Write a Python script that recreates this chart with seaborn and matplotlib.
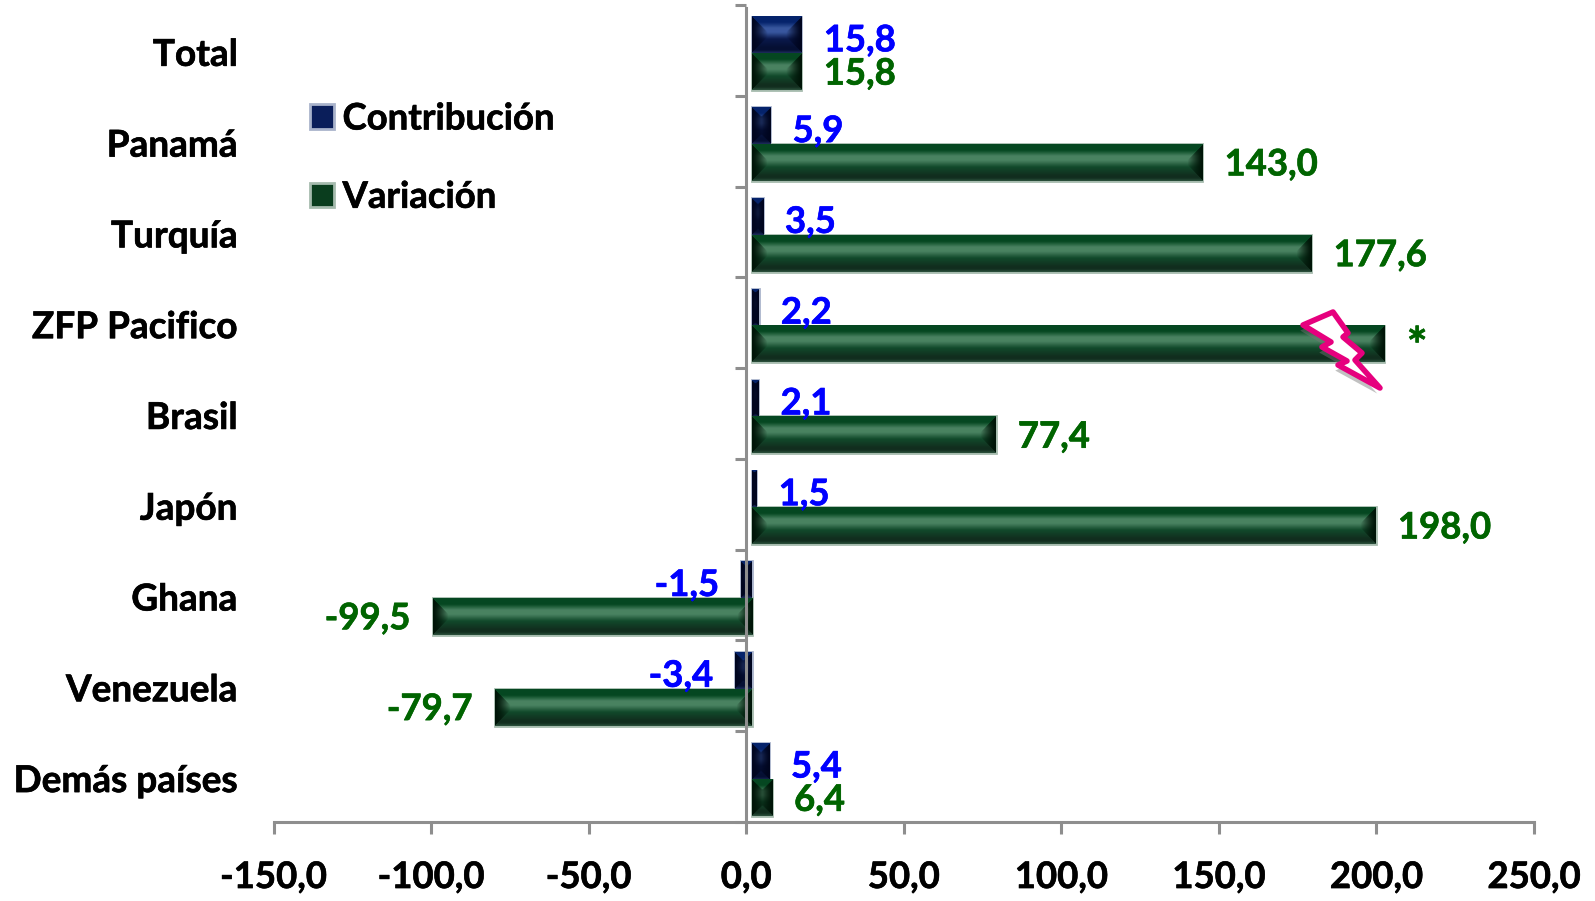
import numpy as np
import pandas as pd
import matplotlib
matplotlib.use("Agg")
import matplotlib.pyplot as plt
import matplotlib.patheffects as pe
from matplotlib.patches import Patch, PathPatch
from matplotlib.path import Path
from matplotlib.text import Text
from matplotlib.transforms import Affine2D
import seaborn as sns

categories = ["Total", "Panamá", "Turquía", "ZFP Pacifico", "Brasil", "Japón",
              "Ghana", "Venezuela", "Demás países"]
contribucion = [15.8, 5.9, 3.5, 2.2, 2.1, 1.5, -1.5, -3.4, 5.4]
variacion = [15.8, 143.0, 177.6, 200.8, 77.4, 198.0, -99.5, -79.7, 6.4]
contribucion_labels = ["15,8", "5,9", "3,5", "2,2", "2,1", "1,5", "-1,5", "-3,4", "5,4"]
variacion_labels = ["15,8", "143,0", "177,6", "*", "77,4", "198,0", "-99,5", "-79,7", "6,4"]
x_ticks = [-150, -100, -50, 0, 50, 100, 150, 200, 250]
x_tick_labels = ["-150,0", "-100,0", "-50,0", "0,0", "50,0", "100,0", "150,0", "200,0", "250,0"]

W, H = 1595, 901
sns.set_theme(style="white")
plt.rcParams["font.family"] = ["Lato", "DejaVu Sans"]
plt.rcParams["font.weight"] = "bold"

FS = 26.3
FS_CAT = 26.6
BLUE_TXT, GREEN_TXT = "#0000FF", "#006400"
AX_GRAY = "#8E8E8E"
PAL = {
    "Contribución": dict(edge=(0.04, 0.10, 0.30), top=(0.02, 0.14, 0.42),
                         mid=(0.22, 0.34, 0.62), low=(0.02, 0.06, 0.20), foot=(0.10, 0.16, 0.34),
                         side=(0.0, 0.02, 0.12), border="#A9B3CB"),
    "Variación": dict(edge=(0.07, 0.29, 0.17), top=(0.02, 0.28, 0.13),
                      mid=(0.29, 0.51, 0.38), low=(0.07, 0.18, 0.12), foot=(0.16, 0.30, 0.22),
                      side=(0.0, 0.08, 0.03), border="#A6BBAE"),
}

fig = plt.figure(figsize=(W / 100, H / 100), dpi=100)
fig.patch.set_facecolor("white")
ax = fig.add_axes([273.5 / W, 1 - 822 / H, (1534 - 273.5) / W, (822 - 5) / H])

df = pd.DataFrame({
    "Categoria": categories * 2,
    "Serie": ["Contribución"] * len(categories) + ["Variación"] * len(categories),
    "Valor": contribucion + variacion,
})
sns.barplot(data=df, y="Categoria", x="Valor", hue="Serie", order=categories,
            hue_order=["Contribución", "Variación"], orient="h", width=0.81, gap=0,
            palette={"Contribución": "#0A1E5A", "Variación": "#0A4A22"}, legend=False,
            saturation=1, ax=ax)
ax.set_xlim(-150, 250)
ax.set_ylim(len(categories) - 0.5, -0.5)
ax.set_xlabel("")
ax.set_ylabel("")


def bevel(p, w_px, h_px):
    """Bevelled-bar raster: thin lit stripe, mitred dark ends, sized in pixels."""
    h = max(int(h_px), 2)
    w = max(int(w_px), 2)
    t = np.linspace(0, 1, h)
    stops = [0, .16, .32, .44, .62, .86, .93, 1]
    cols = [p["top"], p["top"], p["mid"], p["mid"], p["edge"], p["low"], p["low"], p["foot"]]
    prof = np.stack([np.interp(t, stops, [c[i] for c in cols]) for i in range(3)], axis=1)
    img = np.repeat(prof[:, None, :], w, axis=1)
    facet = 15.0
    xx = np.arange(w)[None, :]
    dy = np.minimum(np.arange(h), np.arange(h)[::-1])[:, None]
    from_end = np.minimum(xx, w - 1 - xx)
    inside = (from_end < facet) & (from_end < dy)
    shade = np.clip(from_end / facet, 0, 1)[..., None] ** 1.3
    col = np.array(p["side"])[None, None, :] * (1 - shade) + img * shade
    img = np.where(inside[..., None], col, img)
    return np.clip(img, 0, 1)


to_px = ax.transData
SHIFT = 5.5 / (to_px.transform((1, 0))[0] - to_px.transform((0, 0))[0])  # bars' base sits off the axis
BAND_PX = abs(to_px.transform((0, 1))[1] - to_px.transform((0, 0))[1])
YSHIFT = 3 / BAND_PX  # bars sit 3 px below the band centre
series = [("Contribución", contribucion, contribucion_labels, BLUE_TXT, -4.2),
          ("Variación", variacion, variacion_labels, GREEN_TXT, -1.7)]
for container, (name, vals, labs, col, dy_pt) in zip(ax.containers, series):
    p = PAL[name]
    for bar, v, lab in zip(container, vals, labs):
        y0, hgt = bar.get_y() + YSHIFT, bar.get_height()
        bar.set_y(y0)
        x0, x1 = (SHIFT, v + SHIFT) if v >= 0 else (v, SHIFT)
        bar.set_x(x0)
        bar.set_width(x1 - x0)
        bar.set_edgecolor(p["border"])
        bar.set_linewidth(2.0)
        pa = to_px.transform((x0, y0))
        pb = to_px.transform((x1, y0 + hgt))
        ax.imshow(bevel(p, abs(pb[0] - pa[0]), abs(pb[1] - pa[1])), extent=(x0, x1, y0 + hgt, y0),
                  aspect="auto", interpolation="bilinear", zorder=2.5)
        end = x1 if v >= 0 else x0
        star = lab == "*"
        ax.annotate(lab, xy=(end, y0 + hgt / 2), xytext=(16 if v >= 0 else -16, dy_pt - (1.5 if star else 0)),
                    textcoords="offset points", color=col, fontsize=FS * (1.35 if star else 1), fontweight="bold",
                    ha="left" if v >= 0 else "right", va="center", zorder=5)
ax.set_xlim(-150, 250)
ax.set_ylim(len(categories) - 0.5, -0.5)
ax.set_aspect("auto")

# axes
sns.despine(ax=ax, top=True, right=True, left=False, bottom=False)
ax.spines["left"].set_position(("data", 0))
for s in ("left", "bottom"):
    ax.spines[s].set_color(AX_GRAY)
    ax.spines[s].set_linewidth(2.2)
    ax.spines[s].set_zorder(4)
ax.spines["left"].set_bounds(len(categories) - 0.5, -0.47)
ax.set_xticks(x_ticks, x_tick_labels, fontsize=FS, fontweight="bold", color="black")
ax.set_yticks(np.arange(-0.5, len(categories)), minor=False)
ax.set_yticklabels([])
ax.tick_params(axis="x", length=8.6, width=2.2, color=AX_GRAY, direction="out", pad=19.5, bottom=True)
ax.tick_params(axis="y", which="major", length=8, width=2.2, color=AX_GRAY, direction="out", left=True)
ax.set_yticks(np.arange(len(categories)) + YSHIFT * 0.65, categories, minor=True, fontsize=FS_CAT,
              fontweight="bold", color="black")
ax.tick_params(axis="y", which="minor", length=0, pad=(747 - 238) * 0.72, left=False)

# legend
handles = [Patch(facecolor="#0A1E5A", edgecolor=PAL["Contribución"]["border"], linewidth=2, label="Contribución"),
           Patch(facecolor="#0A3D1E", edgecolor=PAL["Variación"]["border"], linewidth=2, label="Variación")]
ax.legend(handles=handles, frameon=False, fontsize=FS, labelcolor="black", handlelength=0.66, handleheight=0.66,
          handletextpad=0.23, labelspacing=1.24, borderpad=0, borderaxespad=0,
          loc="upper left", bbox_to_anchor=(310 / W, 1 - 102.5 / H), bbox_transform=fig.transFigure)

# lightning callout (drawn annotation, in pixel space)
pts = [(1333, 312), (1348, 333), (1343, 337), (1362, 353), (1355, 360), (1380, 388),
       (1338, 365), (1347, 361), (1322, 347), (1331, 342), (1303, 325)]
bolt = Path(pts + [pts[0]], closed=True)
px = Affine2D().scale(1, -1).translate(0, H)
patch = PathPatch(bolt, transform=px, facecolor="white", edgecolor="#E6007E", linewidth=4.0,
                  joinstyle="round", zorder=6, clip_on=False,
                  path_effects=[pe.SimplePatchShadow(offset=(-2, -4), shadow_rgbFace="#777777", alpha=0.45),
                                pe.Normal()])
ax.add_artist(patch)

# slightly heavier strokes to match the reference's weight
for t in fig.findobj(Text):
    if t.get_text():
        t.set_path_effects([pe.withStroke(linewidth=0.45, foreground=t.get_color())])

fig.savefig("out.png", dpi=100, facecolor="white")
